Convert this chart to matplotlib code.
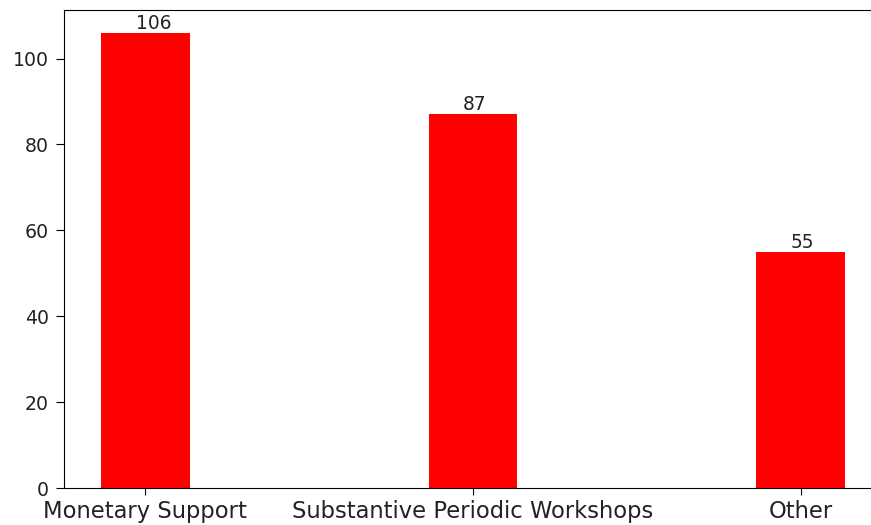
import matplotlib
matplotlib.use("Agg")
import matplotlib.pyplot as plt

categories = ["Monetary Support", "Substantive Periodic Workshops", "Other"]
counts = [106, 87, 55]

fig = plt.figure(figsize=(8.71, 5.25), dpi=100)
# axes run past the right edge, as in the cropped reference
ax = fig.add_axes([64 / 871, 37 / 525, 818 / 871, 478 / 525])

x = list(range(len(categories)))
ax.bar(x, counts, width=0.27, color="red")
for i, v in enumerate(counts):
    ax.text(i - 0.03, v, str(v), ha="left", va="bottom", fontsize=13.4,
            color="#222222")

ax.set_xticks(x)
ax.set_xticklabels(categories, fontsize=16.3, color="#222222")
ax.tick_params(axis="y", labelsize=13.6, labelcolor="#222222", length=5.8, pad=5)
ax.tick_params(axis="x", length=5, pad=3.5)

fig.savefig("out.png", dpi=100)
